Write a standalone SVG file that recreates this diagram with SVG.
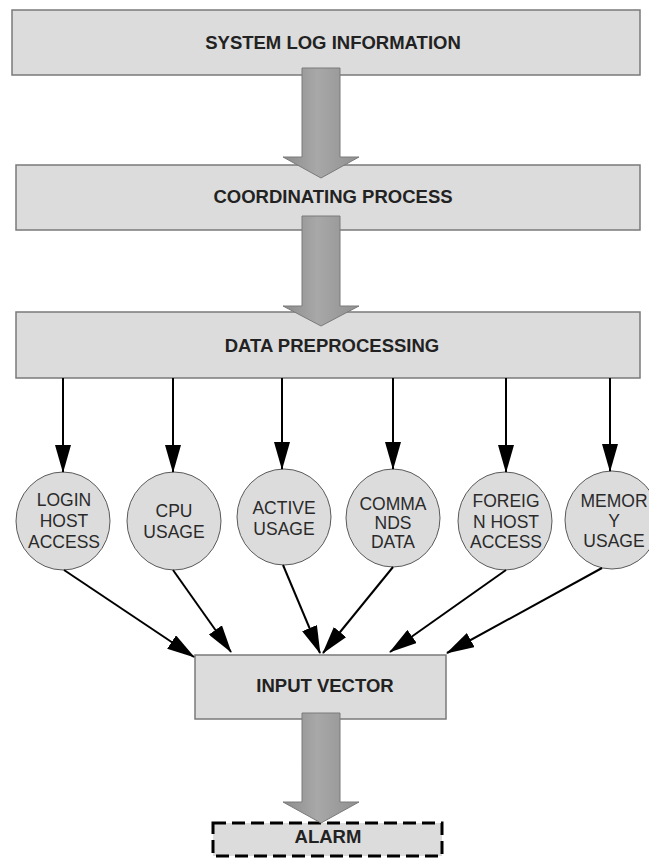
<svg xmlns="http://www.w3.org/2000/svg" width="649" height="859" viewBox="0 0 649 859">
  <defs>
    <linearGradient id="shaftFill" x1="0" y1="0" x2="1" y2="0">
      <stop offset="0" stop-color="#8c8c8c"/>
      <stop offset="0.45" stop-color="#a8a8a8"/>
      <stop offset="1" stop-color="#909090"/>
    </linearGradient>
    <marker id="head" markerUnits="userSpaceOnUse" viewBox="0 0 28 16" markerWidth="28" markerHeight="16" refX="27" refY="8" orient="auto">
      <path d="M0,0 L28,8 L0,16 Z" fill="#000"/>
    </marker>
    <style>
      .box { fill: #dcdcdc; stroke: #7a7a7a; stroke-width: 1.5; }
      .oval { fill: #dcdcdc; stroke: #5a5a5a; stroke-width: 1; }
      .title { font-family: "Liberation Sans", Arial, sans-serif; font-weight: bold; font-size: 18.5px; fill: #222; text-anchor: middle; }
      .lbl { font-family: "Liberation Sans", Arial, sans-serif; font-size: 17.5px; fill: #2a2a2a; text-anchor: middle; }
      .flow { fill: url(#shaftFill); stroke: #7a7a7a; stroke-width: 1; }
      .link { stroke: #000; stroke-width: 2; fill: none; marker-end: url(#head); }
      .alarm { fill: #dcdcdc; stroke: #000; stroke-width: 3; stroke-dasharray: 13 6; }
    </style>
  </defs>

  <rect width="649" height="859" fill="#fff"/>

  <!-- process boxes -->
  <g id="system-log">
    <rect class="box" x="12" y="10" width="628" height="65"/>
    <text class="title" x="333" y="49">SYSTEM LOG INFORMATION</text>
  </g>
  <g id="coordinating">
    <rect class="box" x="16" y="165" width="624" height="65"/>
    <text class="title" x="333" y="203">COORDINATING PROCESS</text>
  </g>
  <g id="preprocessing">
    <rect class="box" x="16" y="312" width="624" height="66"/>
    <text class="title" x="332" y="352">DATA PREPROCESSING</text>
  </g>

  <!-- feature nodes -->
  <g id="login-host-access">
    <ellipse class="oval" cx="63" cy="521" rx="47" ry="49"/>
    <text class="lbl" x="64" y="506">LOGIN</text>
    <text class="lbl" x="64" y="527">HOST</text>
    <text class="lbl" x="64" y="548">ACCESS</text>
  </g>
  <g id="cpu-usage">
    <ellipse class="oval" cx="174" cy="521" rx="47" ry="49"/>
    <text class="lbl" x="174" y="517">CPU</text>
    <text class="lbl" x="174" y="538">USAGE</text>
  </g>
  <g id="active-usage">
    <ellipse class="oval" cx="284" cy="517" rx="47" ry="48"/>
    <text class="lbl" x="284" y="514">ACTIVE</text>
    <text class="lbl" x="284" y="535">USAGE</text>
  </g>
  <g id="commands-data">
    <ellipse class="oval" cx="393" cy="518" rx="47" ry="49"/>
    <text class="lbl" x="393" y="510">COMMA</text>
    <text class="lbl" x="393" y="529">NDS</text>
    <text class="lbl" x="393" y="548">DATA</text>
  </g>
  <g id="foreign-host-access">
    <ellipse class="oval" cx="505" cy="521" rx="47" ry="49"/>
    <text class="lbl" x="506" y="507">FOREIG</text>
    <text class="lbl" x="506" y="528">N HOST</text>
    <text class="lbl" x="506" y="548">ACCESS</text>
  </g>
  <g id="memory-usage">
    <ellipse class="oval" cx="612" cy="520" rx="47" ry="49"/>
    <text class="lbl" x="614" y="507">MEMOR</text>
    <text class="lbl" x="614" y="527">Y</text>
    <text class="lbl" x="614" y="547">USAGE</text>
  </g>

  <g id="input-vector">
    <rect class="box" x="195" y="655" width="251" height="64"/>
    <text class="title" x="325" y="692">INPUT VECTOR</text>
  </g>

  <g id="alarm">
    <rect class="alarm" x="213" y="823" width="229" height="33"/>
    <text class="title" x="328" y="843">ALARM</text>
  </g>

  <!-- connectors -->
  <g id="connectors">
    <!-- block arrows between stages -->
    <polygon class="flow" points="302,68 340,68 340,157 359,157 321,178 283,157 302,157"/>
    <polygon class="flow" points="302,216 340,216 340,306 359,306 321,326 283,306 302,306"/>
    <polygon class="flow" points="302,713 340,713 340,802 359,802 321,823 283,802 302,802"/>

    <!-- preprocessing to features -->
    <line class="link" x1="63" y1="378" x2="63" y2="472"/>
    <line class="link" x1="173" y1="378" x2="173" y2="472"/>
    <line class="link" x1="282" y1="378" x2="282" y2="469"/>
    <line class="link" x1="393" y1="378" x2="393" y2="469"/>
    <line class="link" x1="506" y1="378" x2="506" y2="472"/>
    <line class="link" x1="610" y1="378" x2="610" y2="471"/>

    <!-- features to input vector -->
    <line class="link" x1="64" y1="570" x2="194" y2="657"/>
    <line class="link" x1="173" y1="570" x2="231" y2="652"/>
    <line class="link" x1="283" y1="565" x2="320" y2="653"/>
    <line class="link" x1="393" y1="567" x2="323" y2="653"/>
    <line class="link" x1="506" y1="570" x2="390" y2="652"/>
    <line class="link" x1="602" y1="568" x2="447" y2="653"/>
  </g>
</svg>
